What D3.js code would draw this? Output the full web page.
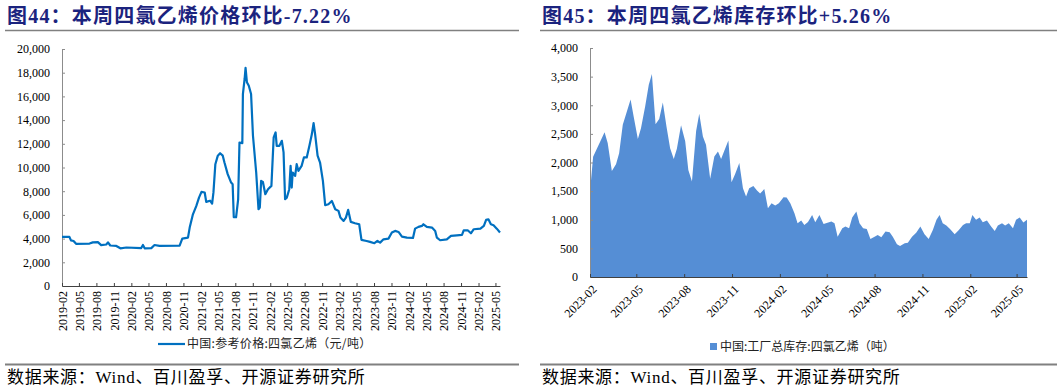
<!DOCTYPE html>
<html><head><meta charset="utf-8">
<script src="https://cdn.jsdelivr.net/npm/d3@7"></script>
<style>
html,body{margin:0;padding:0;background:#fff;}
svg{display:block;}
</style></head>
<body>
<svg id="c" width="1057" height="390"></svg>
<script>
// ---------- DATA ----------
const priceTitle = "图44：本周四氯乙烯价格环比-7.22%";
const invTitle = "图45：本周四氯乙烯库存环比+5.26%";
const priceLegend = "中国:参考价格:四氯乙烯（元/吨）";
const invLegend = "中国:工厂总库存:四氯乙烯（吨）";
const sourceText = "数据来源：Wind、百川盈孚、开源证券研究所";

const priceTicks = ["2019-02","2019-05","2019-08","2019-11","2020-02","2020-05","2020-08","2020-11",
  "2021-02","2021-05","2021-08","2021-11","2022-02","2022-05","2022-08","2022-11",
  "2023-02","2023-05","2023-08","2023-11","2024-02","2024-05","2024-08","2024-11","2025-02","2025-05"];
const priceYTicks = [0,2000,4000,6000,8000,10000,12000,14000,16000,18000,20000];

const priceDates = ["2019-02-01","2019-03-12","2019-03-20","2019-04-03","2019-04-16","2019-06-26","2019-07-13","2019-08-09","2019-08-26","2019-09-22","2019-10-01","2019-10-13","2019-11-14","2019-12-05","2020-01-06","2020-03-24","2020-04-02","2020-04-11","2020-05-16","2020-06-02","2020-06-28","2020-10-12","2020-10-26","2020-11-25","2020-12-04","2020-12-21","2021-01-08","2021-01-22","2021-02-04","2021-02-21","2021-03-01","2021-03-21","2021-04-01","2021-04-08","2021-04-18","2021-05-01","2021-05-13","2021-05-27","2021-06-05","2021-06-22","2021-07-10","2021-07-18","2021-07-24","2021-08-05","2021-08-16","2021-08-23","2021-09-07","2021-09-10","2021-09-19","2021-09-24","2021-10-01","2021-10-11","2021-10-23","2021-11-02","2021-11-19","2021-12-01","2021-12-08","2021-12-15","2021-12-24","2022-01-06","2022-01-20","2022-02-07","2022-02-19","2022-03-01","2022-03-07","2022-03-21","2022-04-03","2022-04-12","2022-04-20","2022-04-29","2022-05-12","2022-05-19","2022-05-25","2022-05-30","2022-06-12","2022-06-20","2022-06-29","2022-07-16","2022-07-28","2022-08-12","2022-08-26","2022-09-08","2022-09-17","2022-09-25","2022-10-08","2022-10-21","2022-11-05","2022-11-17","2022-12-04","2022-12-22","2023-01-09","2023-01-26","2023-02-05","2023-02-22","2023-03-06","2023-03-18","2023-04-01","2023-04-23","2023-05-15","2023-05-27","2023-06-23","2023-07-11","2023-08-03","2023-08-19","2023-09-02","2023-09-20","2023-10-16","2023-11-03","2023-11-20","2023-12-08","2023-12-26","2024-01-21","2024-02-22","2024-03-04","2024-03-22","2024-04-09","2024-04-17","2024-05-05","2024-06-01","2024-06-18","2024-06-27","2024-07-14","2024-08-18","2024-09-09","2024-10-10","2024-11-06","2024-11-15","2024-12-06","2024-12-23","2025-01-07","2025-02-11","2025-03-01","2025-03-13","2025-03-25","2025-04-07","2025-04-21","2025-05-08","2025-05-25"];
const priceValues = [4150,4150,3850,3800,3560,3580,3680,3700,3450,3500,3680,3420,3380,3180,3250,3200,3460,3180,3200,3460,3380,3400,4000,4080,4930,6050,6760,7460,7940,7890,7100,7200,6950,7900,10280,11000,11200,11000,10420,9440,8730,8590,5800,5800,7320,12100,12060,16200,17470,18400,17200,16900,16200,12680,9580,6480,6620,8870,8790,7750,8170,8450,12540,12960,11830,11830,12250,11270,7320,7460,8170,10140,8310,9580,9300,10280,9720,10140,10850,10850,11830,12820,13750,12820,11000,10420,8870,6820,6900,7180,6480,6340,5775,5490,5775,6420,5410,5300,5210,3890,3800,3720,3610,3800,3660,3940,4000,4510,4650,4560,4170,4080,4060,4840,4990,5070,5210,4990,4930,4650,4080,3860,3940,4230,4280,4310,4700,4700,4450,4790,4840,5070,5580,5630,5210,5130,4840,4510];

const invTicks = ["2023-02","2023-05","2023-08","2023-11","2024-02","2024-05","2024-08","2024-11","2025-02","2025-05"];
const invYTicks = [0,500,1000,1500,2000,2500,3000,3500,4000];
const invDates = ["2023-02-01","2023-02-07","2023-03-01","2023-03-07","2023-03-15","2023-03-23","2023-03-29","2023-04-05","2023-04-20","2023-04-26","2023-05-04","2023-05-10","2023-05-18","2023-05-25","2023-05-31","2023-06-07","2023-06-14","2023-06-21","2023-06-28","2023-07-05","2023-07-12","2023-07-18","2023-07-26","2023-08-03","2023-08-09","2023-08-16","2023-08-24","2023-08-30","2023-09-06","2023-09-12","2023-09-20","2023-09-28","2023-10-05","2023-10-11","2023-10-17","2023-10-25","2023-10-31","2023-11-07","2023-11-15","2023-11-22","2023-11-28","2023-12-04","2023-12-12","2023-12-19","2023-12-25","2024-01-02","2024-01-09","2024-01-16","2024-01-23","2024-01-30","2024-02-08","2024-02-14","2024-02-21","2024-02-29","2024-03-06","2024-03-13","2024-03-19","2024-03-26","2024-04-03","2024-04-09","2024-04-17","2024-04-25","2024-05-10","2024-05-16","2024-05-22","2024-05-31","2024-06-06","2024-06-13","2024-06-19","2024-06-27","2024-07-03","2024-07-10","2024-07-17","2024-07-24","2024-08-01","2024-08-07","2024-08-14","2024-08-22","2024-08-30","2024-09-05","2024-09-13","2024-09-19","2024-09-28","2024-10-04","2024-10-12","2024-10-20","2024-10-28","2024-11-05","2024-11-13","2024-11-21","2024-11-28","2024-12-04","2024-12-10","2024-12-17","2024-12-24","2025-01-02","2025-01-10","2025-01-18","2025-01-24","2025-01-31","2025-02-05","2025-02-12","2025-02-19","2025-02-25","2025-03-05","2025-03-13","2025-03-20","2025-03-26","2025-04-03","2025-04-09","2025-04-16","2025-04-24","2025-04-30","2025-05-07","2025-05-14","2025-05-21"];
const invValues = [1490,2100,2530,2340,1850,1970,2160,2660,3100,2800,2410,2600,2980,3360,3545,2670,2760,3050,2630,2250,2060,2240,2650,2370,1870,1670,2550,2850,2455,2310,1715,2105,2190,2060,2200,2385,1655,1800,1990,1550,1405,1550,1590,1510,1460,1535,1200,1290,1250,1290,1395,1390,1290,1115,940,985,910,960,1085,955,1085,925,970,940,705,850,880,850,1040,1145,940,850,840,665,705,735,695,795,780,705,570,540,590,600,705,775,880,745,665,820,1000,1085,940,900,840,745,820,910,940,940,1085,1000,1040,955,985,880,805,900,940,900,940,850,1000,1040,950,1000];

// ---------- DRAW ----------
const parse = d3.timeParse("%Y-%m-%d");
const parseM = d3.timeParse("%Y-%m");
const svg = d3.select("#c");
const serif = "'Liberation Serif','Times New Roman',serif";
const cjk = "'Noto Sans CJK SC','Noto Sans',sans-serif";
const titleColor = "#1b237e";
const lineColor = "#0070C0";
const areaColor = "#558ED5";
const sepColor = "#808080";

function header(x0, x1, title) {
  svg.append("text").attr("x", x0 + 2).attr("y", 23)
    .attr("font-family", serif + "," + cjk).attr("font-weight", "bold")
    .attr("font-size", 20).attr("letter-spacing", 1.2).attr("fill", titleColor).text(title);
  svg.append("line").attr("x1", x0).attr("x2", x1).attr("y1", 30.5).attr("y2", 30.5)
    .attr("stroke", sepColor).attr("stroke-width", 1.5);
  svg.append("line").attr("x1", x0).attr("x2", x1).attr("y1", 364.5).attr("y2", 364.5)
    .attr("stroke", sepColor).attr("stroke-width", 2);
  svg.append("text").attr("x", x0 + 2).attr("y", 383)
    .attr("font-family", serif + "," + cjk).attr("font-size", 17).attr("letter-spacing", 0.7)
    .attr("fill", "#000").text(sourceText);
}

// ---- left chart ----
header(5, 519, priceTitle);
const px = d3.scaleTime().domain([parse("2019-02-01"), parse("2025-05-25")]).range([62, 500]);
const py = d3.scaleLinear().domain([0, 20000]).range([286, 49]);
const pData = priceDates.map((d, i) => ({ d: parse(d), v: priceValues[i] }));

const pyAxis = svg.append("g").attr("transform", "translate(62,0)")
  .call(d3.axisLeft(py).tickValues(priceYTicks).tickFormat(d3.format(",")).tickSizeInner(-3).tickSizeOuter(0).tickPadding(12));
pyAxis.select(".domain").attr("stroke", "#8c8c8c");
pyAxis.selectAll(".tick line").attr("stroke", "#8c8c8c");
pyAxis.selectAll("text").attr("font-family", serif).attr("font-size", 12).attr("fill", "#000");

const pxAxis = svg.append("g").attr("transform", "translate(0,286)")
  .call(d3.axisBottom(px).tickValues(priceTicks.map(parseM)).tickFormat(d3.timeFormat("%Y-%m")).tickSizeInner(-3).tickSizeOuter(0));
pxAxis.select(".domain").attr("stroke", "#404040");
pxAxis.selectAll(".tick line").attr("stroke", "#404040");
pxAxis.selectAll("text").attr("font-family", serif).attr("font-size", 12).attr("fill", "#000")
  .attr("text-anchor", "end").attr("transform", "translate(0,5) rotate(-90)")
  .attr("x", 0).attr("y", 0).attr("dy", "0.35em");

svg.append("path").datum(pData)
  .attr("d", d3.line().x(d => px(d.d)).y(d => py(d.v)))
  .attr("fill", "none").attr("stroke", lineColor).attr("stroke-width", 2.2)
  .attr("stroke-linejoin", "round");

svg.append("line").attr("x1", 158).attr("x2", 185).attr("y1", 344).attr("y2", 344)
  .attr("stroke", lineColor).attr("stroke-width", 2.2);
svg.append("text").attr("x", 187).attr("y", 348).attr("font-family", cjk).attr("font-size", 12)
  .attr("letter-spacing", 0.3).attr("fill", "#222").text(priceLegend);

// ---- right chart ----
header(540, 1057, invTitle);
const ix = d3.scaleTime().domain([parse("2023-02-01"), parse("2025-05-21")]).range([590, 1027]);
const iy = d3.scaleLinear().domain([0, 4000]).range([277, 48]);
const iData = invDates.map((d, i) => ({ d: parse(d), v: invValues[i] }));

svg.append("path").datum(iData)
  .attr("d", d3.area().x(d => ix(d.d)).y0(iy(0)).y1(d => iy(d.v)))
  .attr("fill", areaColor);

const iyAxis = svg.append("g").attr("transform", "translate(590,0)")
  .call(d3.axisLeft(iy).tickValues(invYTicks).tickFormat(d3.format(",")).tickSizeInner(-3).tickSizeOuter(0).tickPadding(12));
iyAxis.select(".domain").attr("stroke", "#8c8c8c");
iyAxis.selectAll(".tick line").attr("stroke", "#8c8c8c");
iyAxis.selectAll("text").attr("font-family", serif).attr("font-size", 12).attr("fill", "#000");

const ixAxis = svg.append("g").attr("transform", "translate(0,277)")
  .call(d3.axisBottom(ix).tickValues(invTicks.map(parseM)).tickFormat(d3.timeFormat("%Y-%m")).tickSizeInner(-3).tickSizeOuter(0));
ixAxis.select(".domain").attr("stroke", "#404040");
ixAxis.selectAll(".tick line").attr("stroke", "#404040");
ixAxis.selectAll("text").attr("font-family", serif).attr("font-size", 12).attr("fill", "#000")
  .attr("text-anchor", "end").attr("transform", "translate(4,10) rotate(-45)")
  .attr("x", 0).attr("y", 0).attr("dy", "0.35em");

svg.append("rect").attr("x", 710).attr("y", 343).attr("width", 7).attr("height", 7).attr("fill", areaColor);
svg.append("text").attr("x", 720).attr("y", 351).attr("font-family", cjk).attr("font-size", 12)
  .attr("fill", "#222").text(invLegend);
</script>
</body></html>
